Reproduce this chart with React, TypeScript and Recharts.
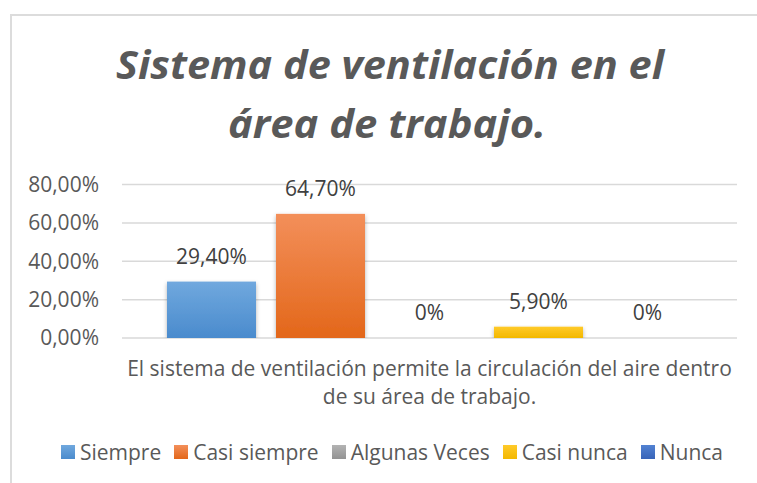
import React from "react";
import { BarChart, Bar, XAxis, YAxis, CartesianGrid, LabelList, Legend } from "recharts";

const titleLines = ["Sistema de ventilación en el", "área de trabajo."];
const categoryLines = [
  "El sistema de ventilación permite la circulación del aire dentro",
  "de su área de trabajo.",
];
const seriesKeys = ["siempre", "casiSiempre", "algunasVeces", "casiNunca", "nunca"];
const seriesNames = ["Siempre", "Casi siempre", "Algunas Veces", "Casi nunca", "Nunca"];
const seriesValues = [0.294, 0.647, 0, 0.059, 0];
const seriesTop = ["#70a8de", "#f38f5a", "#b3b3b3", "#ffca2a", "#5282d2"];
const seriesBottom = ["#4a8bcd", "#e3671a", "#939393", "#f3b800", "#3864b8"];
const yTicks = [0, 0.2, 0.4, 0.6, 0.8];

const row: Record<string, any> = { category: categoryLines.join(" ") };
seriesKeys.forEach((k, i) => {
  row[k] = seriesValues[i];
});
const data = [row];

const fmtAxis = (v: number) => (v * 100).toFixed(2).replace(".", ",") + "%";
const fmtLabel = (v: any) => {
  const n = Number(v);
  if (n === 0) return "0%";
  return (n * 100).toFixed(2).replace(".", ",") + "%";
};

const CatTick = (props: any) => {
  const { x, y } = props;
  return (
    <g>
      <text x={x} y={y + 38} textAnchor="middle" fill="#595959" fontSize={21}>
        {categoryLines[0]}
      </text>
      <text x={x} y={y + 66} textAnchor="middle" fill="#595959" fontSize={21}>
        {categoryLines[1]}
      </text>
    </g>
  );
};

const ShadowBar = (props: any) => {
  const { x, y, width, height, fill } = props;
  if (!height || height <= 0) return <g />;
  return <rect x={x} y={y} width={width} height={height} fill={fill} filter="url(#barShadow)" />;
};

const LegendContent = () => (
  <div
    style={{
      height: 30,
      display: "flex",
      justifyContent: "center",
      alignItems: "center",
      paddingLeft: 47,
      fontSize: 21,
      color: "#595959",
      whiteSpace: "nowrap",
    }}
  >
    {seriesNames.map((n, i) => (
      <div key={n} style={{ display: "flex", alignItems: "center", marginRight: i < seriesNames.length - 1 ? 13 : 0 }}>
        <div
          style={{
            width: 14,
            height: 14,
            marginRight: 5,
            background: `linear-gradient(${seriesTop[i]}, ${seriesBottom[i]})`,
          }}
        />
        <span style={{ lineHeight: "30px" }}>{n}</span>
      </div>
    ))}
  </div>
);

export default function App() {
  return (
    <div
      style={{
        position: "absolute",
        left: 0,
        top: 0,
        width: 757,
        height: 483,
        overflow: "hidden",
        background: "#ffffff",
        fontFamily: "'Open Sans', sans-serif",
      }}
    >
      <div
        style={{
          position: "absolute",
          left: 10,
          top: 13.5,
          width: 800,
          height: 520,
          border: "2px solid #dcdcdc",
        }}
      />
      <svg width={757} height={483} style={{ position: "absolute", left: 0, top: 0 }}>
        <text
          x={390}
          y={79}
          textAnchor="middle"
          fontSize={39}
          fontWeight="bold"
          fontStyle="italic"
          fill="#595959"
          textLength={548}
          lengthAdjust="spacingAndGlyphs"
        >
          {titleLines[0]}
        </text>
        <text
          x={387}
          y={138}
          textAnchor="middle"
          fontSize={39}
          fontWeight="bold"
          fontStyle="italic"
          fill="#595959"
          textLength={318}
          lengthAdjust="spacingAndGlyphs"
        >
          {titleLines[1]}
        </text>
      </svg>
      <div style={{ position: "absolute", left: 0, top: 0 }}>
        <BarChart
          width={757}
          height={483}
          data={data}
          margin={{ top: 184.5, right: 20, left: 0, bottom: 16 }}
          barCategoryGap={45}
          barGap={20}
        >
          <defs>
            {seriesKeys.map((k, i) => (
              <linearGradient key={k} id={`g${i}`} x1="0" y1="0" x2="0" y2="1">
                <stop offset="0%" stopColor={seriesTop[i]} />
                <stop offset="100%" stopColor={seriesBottom[i]} />
              </linearGradient>
            ))}
            <filter id="barShadow" x="-10%" y="-10%" width="120%" height="130%">
              <feDropShadow dx="0" dy="2" stdDeviation="2" floodColor="#000" floodOpacity="0.3" />
            </filter>
          </defs>
          <CartesianGrid vertical={false} stroke="#d9d9d9" strokeWidth={1.5} />
          <XAxis
            dataKey="category"
            axisLine={false}
            tickLine={false}
            tickSize={0}
            tickMargin={0}
            height={99}
            interval={0}
            tick={<CatTick />}
          />
          <YAxis
            width={122}
            domain={[0, 0.8]}
            ticks={yTicks}
            tickFormatter={fmtAxis}
            axisLine={false}
            tickLine={false}
            tickSize={0}
            tickMargin={23}
            tick={{ fill: "#595959", fontSize: 21 }}
            allowDataOverflow
          />
          <Legend verticalAlign="bottom" content={<LegendContent />} />
          {seriesKeys.map((k, i) => (
            <Bar
              key={k}
              dataKey={k}
              name={seriesNames[i]}
              fill={`url(#g${i})`}
              isAnimationActive={false}
              shape={<ShadowBar />}
            >
              <LabelList dataKey={k} position="top" offset={18} formatter={fmtLabel} fill="#404040" fontSize={21} />
            </Bar>
          ))}
        </BarChart>
      </div>
    </div>
  );
}
